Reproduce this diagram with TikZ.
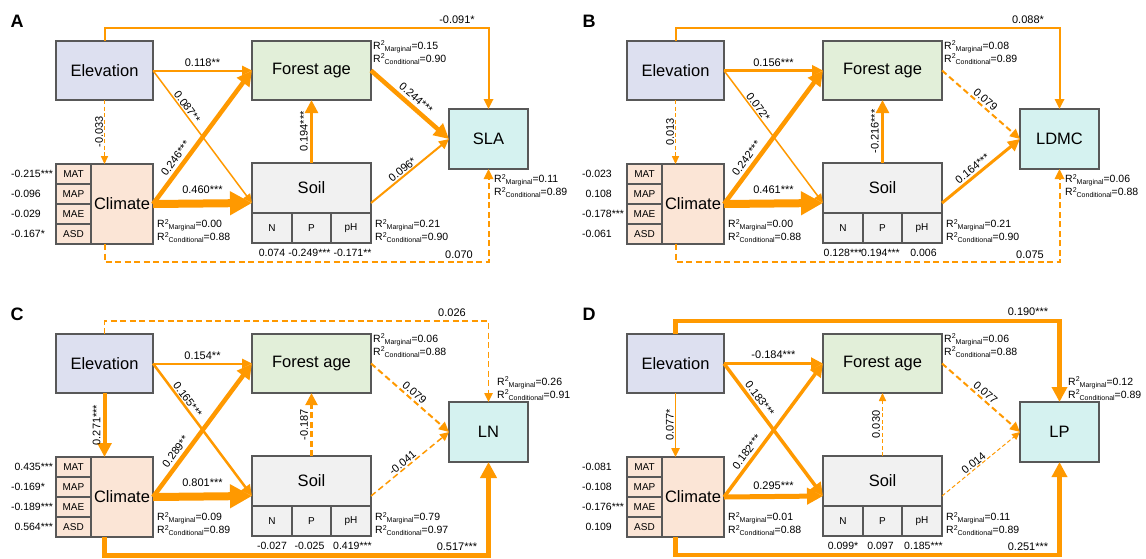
\documentclass[tikz,border=0pt]{standalone}
\usepackage{fontspec}
\setmainfont{Liberation Sans}
\usetikzlibrary{arrows.meta}

\definecolor{orng}{RGB}{255,153,0}
\definecolor{elevfill}{RGB}{221,224,240}
\definecolor{forestfill}{RGB}{226,239,217}
\definecolor{soilfill}{RGB}{241,241,241}
\definecolor{climfill}{RGB}{251,229,214}
\definecolor{respfill}{RGB}{213,242,240}
\definecolor{edge}{RGB}{88,88,88}

% raised / lowered small text for the R^2 annotations
\newcommand\sups[1]{\raisebox{3.6pt}{\fontsize{7}{8}\selectfont#1}}
\newcommand\subs[1]{\raisebox{-2.2pt}{\fontsize{7}{8}\selectfont#1}}

\tikzset{
  bx/.style={draw=edge, line width=1.1pt, inner sep=0pt, outer sep=0pt,
             font=\fontsize{16.5}{18}\selectfont},
  bxtext/.style={inner sep=0pt, font=\fontsize{16.5}{18}\selectfont},
  smalltext/.style={inner sep=0pt, font=\fontsize{10}{12}\selectfont},
  edgeline/.style={draw=edge, line width=1.1pt},
  lnk/.style={draw=orng, line width=#1pt,
              -{Triangle[length=6pt 2, width=5pt 2.2]}},
  dsh/.style={dash pattern=on 6pt off 3.5pt},
  thindsh/.style={dash pattern=on 4pt off 2.5pt},
  lab/.style={inner sep=1pt, font=\fontsize{11}{12}\selectfont},
  load/.style={inner sep=1pt, font=\fontsize{10.5}{12}\selectfont},
  rsqbox/.style={anchor=north west, align=left, inner sep=0pt,
                 font=\fontsize{10.5}{13}\selectfont},
  letter/.style={inner sep=0pt, font=\fontsize{18}{18}\selectfont\bfseries},
}

% boxes shared by the four path models; #1 is the response trait
\newcommand\panelboxes[1]{%
  \node[bx, fill=elevfill, minimum width=97pt, minimum height=59pt] (elev) at (104.5,70.5) {Elevation};
  \node[bx, fill=forestfill, minimum width=119pt, minimum height=59pt] (forest) at (311.5,70.5) {Forest age};
  \node[bx, fill=climfill, minimum width=97pt, minimum height=80pt] (clim) at (104.5,204) {};
  \node[bxtext] (climtxt) at (122,204) {Climate};
  \draw[edgeline] (91,164) -- (91,244) (56,184) -- (91,184) (56,204) -- (91,204) (56,224) -- (91,224);
  \node[smalltext] (mat) at (73.5,174) {MAT};
  \node[smalltext] (map) at (73.5,194) {MAP};
  \node[smalltext] (mae) at (73.5,214) {MAE};
  \node[smalltext] (asd) at (73.5,234) {ASD};
  \node[bx, fill=soilfill, minimum width=119pt, minimum height=80pt] (soil) at (311.5,203) {};
  \node[bxtext] (soiltxt) at (311.5,188) {Soil};
  \draw[edgeline] (252,213) -- (371,213) (292,213) -- (292,243) (331,213) -- (331,243);
  \node[smalltext] (soiln) at (272,228) {N};
  \node[smalltext] (soilp) at (311.5,228) {P};
  \node[smalltext] (soilph) at (351,228) {pH};
  \node[bx, fill=respfill, minimum width=79pt, minimum height=60pt] (resp) at (488.5,139) {#1};
}
% loadings of the climate variables
\newcommand\climlabels[4]{%
  \node[load, anchor=east] (lmat) at (42,174) {#1};
  \node[load, anchor=east] (lmap) at (42,194) {#2};
  \node[load, anchor=east] (lmae) at (42,214) {#3};
  \node[load, anchor=east] (lasd) at (42,234) {#4};
}
% loadings of the soil variables
\newcommand\soillabels[3]{%
  \node[load] (ln) at (272,253) {#1};
  \node[load] (lp) at (309.5,253) {#2};
  \node[load] (lph) at (352.5,253) {#3};
}
\newcommand\rsqnode[4]{%
  \node[rsqbox] (#1) at (#2) {R\sups{2}\subs{Marginal}=#3\\R\sups{2}\subs{Conditional}=#4};
}
\newcommand\st[1]{\rlap{#1}}

\begin{document}
\begin{tikzpicture}[x=1pt, y=-1pt]
\useasboundingbox[fill=white] (0,0) rectangle (1146,558);

% ---------------- A: SLA ----------------
\begin{scope}[name prefix=A-]
  \panelboxes{SLA}
  \node[letter] (tag) at (17,21.5) {A};
  \draw[lnk=2] (elev.north) -- ++(0,-13) -| (resp.north);
  \node[lab] (toplab) at (457,20) {-0.091*};
  \draw[lnk=2] (elev.east) -- (forest.west) node[lab, midway, above=2pt] {0.118**};
  \draw[lnk=1.5] (elev.east) -- (soil.west) node[lab, sloped, above, pos=0.3] {0.087**};
  \draw[lnk=4.5] (clim.east) -- (forest.west) node[lab, sloped, above=2pt, pos=0.3] {0.246***};
  \draw[lnk=8] (clim.east) -- (soil.west) node[lab, midway, above=5pt] {0.460***};
  \draw[lnk=3.5] (soil.north) -- (forest.south) node[lab, sloped, above=1pt, midway] {0.194***};
  \draw[lnk=4.5] (forest.east) -- (resp.west) node[lab, sloped, above=2pt, pos=0.5] {0.244***};
  \draw[lnk=2] (soil.east) -- (resp.west) node[lab, sloped, above, pos=0.45] {0.096*};
  \draw[lnk=1, thindsh] (elev.south) -- (clim.north) node[lab, midway, rotate=90, anchor=south] {-0.033};
  \draw[lnk=2, dsh] (clim.south) -- ++(0,18) -| (resp.south);
  \node[lab] (botlab) at (459,255) {0.070};
  \rsqnode{rf}{373,40.5}{0.15}{0.90}
  \rsqnode{rc}{157,219}{0.00}{0.88}
  \rsqnode{rs}{375,219}{0.21}{0.90}
  \rsqnode{rr}{494,174}{0.11}{0.89}
  \climlabels{-0.215\st{***}}{-0.096}{-0.029}{-0.167\st{*}}
  \soillabels{0.074}{-0.249***}{-0.171**}
\end{scope}

% ---------------- B: LDMC ----------------
\begin{scope}[shift={(571,0)}, name prefix=B-]
  \panelboxes{LDMC}
  \node[letter] (tag) at (18,21.5) {B};
  \draw[lnk=2] (elev.north) -- ++(0,-13) -| (resp.north);
  \node[lab] (toplab) at (457,20) {0.088*};
  \draw[lnk=2.5] (elev.east) -- (forest.west) node[lab, midway, above=2pt] {0.156***};
  \draw[lnk=1.5] (elev.east) -- (soil.west) node[lab, sloped, above, pos=0.3] {0.072*};
  \draw[lnk=4.5] (clim.east) -- (forest.west) node[lab, sloped, above=2pt, pos=0.3] {0.242***};
  \draw[lnk=8] (clim.east) -- (soil.west) node[lab, midway, above=5pt] {0.461***};
  \draw[lnk=3.5] (soil.north) -- (forest.south) node[lab, sloped, above=1pt, midway] {-0.216***};
  \draw[lnk=2, dsh] (forest.east) -- (resp.west) node[lab, sloped, above=1pt, pos=0.5] {0.079};
  \draw[lnk=3] (soil.east) -- (resp.west) node[lab, sloped, above=1pt, pos=0.45] {0.164***};
  \draw[lnk=1, thindsh] (elev.south) -- (clim.north) node[lab, midway, rotate=90, anchor=south] {0.013};
  \draw[lnk=2, dsh] (clim.south) -- ++(0,18) -| (resp.south);
  \node[lab] (botlab) at (459,255) {0.075};
  \rsqnode{rf}{373,40.5}{0.08}{0.89}
  \rsqnode{rc}{157,219}{0.00}{0.88}
  \rsqnode{rs}{375,219}{0.21}{0.90}
  \rsqnode{rr}{494,174}{0.06}{0.88}
  \climlabels{-0.023}{0.108}{-0.178\st{***}}{-0.061}
  \soillabels{0.128***}{0.194***}{0.006}
\end{scope}

% ---------------- C: LN ----------------
\begin{scope}[shift={(0,293)}, name prefix=C-]
  \panelboxes{LN}
  \node[letter] (tag) at (17,21.5) {C};
  \draw[lnk=1.5, dsh] (elev.north) -- ++(0,-13) -| (resp.north);
  \node[lab] (toplab) at (452,20) {0.026};
  \draw[lnk=2] (elev.east) -- (forest.west) node[lab, midway, above=2pt] {0.154**};
  \draw[lnk=2.5] (elev.east) -- (soil.west) node[lab, sloped, above, pos=0.3] {0.165***};
  \draw[lnk=4.5] (clim.east) -- (forest.west) node[lab, sloped, above=2pt, pos=0.3] {0.289**};
  \draw[lnk=8] (clim.east) -- (soil.west) node[lab, midway, above=5pt] {0.801***};
  \draw[lnk=3, dsh] (soil.north) -- (forest.south) node[lab, sloped, above=1pt, midway] {-0.187};
  \draw[lnk=2, dsh] (forest.east) -- (resp.west) node[lab, sloped, above=1pt, pos=0.5] {0.079};
  \draw[lnk=1.5, dsh] (soil.east) -- (resp.west) node[lab, sloped, above, pos=0.45] {-0.041};
  \draw[lnk=4] (elev.south) -- (clim.north) node[lab, midway, rotate=90, anchor=south, yshift=1pt] {0.271***};
  \draw[lnk=5] (clim.south) -- ++(0,18) -| (resp.south);
  \node[lab] (botlab) at (457,254) {0.517***};
  \rsqnode{rf}{373,40.5}{0.06}{0.88}
  \rsqnode{rc}{157,219}{0.09}{0.89}
  \rsqnode{rs}{375,219}{0.79}{0.97}
  \rsqnode{rr}{497,83.5}{0.26}{0.91}
  \climlabels{0.435\st{***}}{-0.169\st{*}}{-0.189\st{***}}{0.564\st{***}}
  \soillabels{-0.027}{-0.025}{0.419***}
\end{scope}

% ---------------- D: LP ----------------
\begin{scope}[shift={(571,293)}, name prefix=D-]
  \panelboxes{LP}
  \node[letter] (tag) at (18,21.5) {D};
  \draw[lnk=4.5] (elev.north) -- ++(0,-13) -| (resp.north);
  \node[lab] (toplab) at (457,19) {0.190***};
  \draw[lnk=3] (elev.east) -- (forest.west) node[lab, midway, above=2pt] {-0.184***};
  \draw[lnk=3.5] (elev.east) -- (soil.west) node[lab, sloped, above=1pt, pos=0.3] {0.183***};
  \draw[lnk=3.5] (clim.east) -- (forest.west) node[lab, sloped, above=2pt, pos=0.3] {0.182***};
  \draw[lnk=5] (clim.east) -- (soil.west) node[lab, midway, above=3pt] {0.295***};
  \draw[lnk=1, thindsh] (soil.north) -- (forest.south) node[lab, sloped, above=1pt, midway] {0.030};
  \draw[lnk=2, dsh] (forest.east) -- (resp.west) node[lab, sloped, above=1pt, pos=0.5] {0.077};
  \draw[lnk=1, thindsh] (soil.east) -- (resp.west) node[lab, sloped, above, pos=0.45] {0.014};
  \draw[lnk=1.5] (elev.south) -- (clim.north) node[lab, midway, rotate=90, anchor=south] {0.077*};
  \draw[lnk=4.5] (clim.south) -- ++(0,18) -| (resp.south);
  \node[lab] (botlab) at (457,254) {0.251***};
  \rsqnode{rf}{373,40.5}{0.06}{0.88}
  \rsqnode{rc}{157,219}{0.01}{0.88}
  \rsqnode{rs}{375,219}{0.11}{0.89}
  \rsqnode{rr}{497,83.5}{0.12}{0.89}
  \climlabels{-0.081}{-0.108}{-0.176\st{***}}{0.109}
  \soillabels{0.099*}{0.097}{0.185***}
\end{scope}
\end{tikzpicture}
\end{document}
